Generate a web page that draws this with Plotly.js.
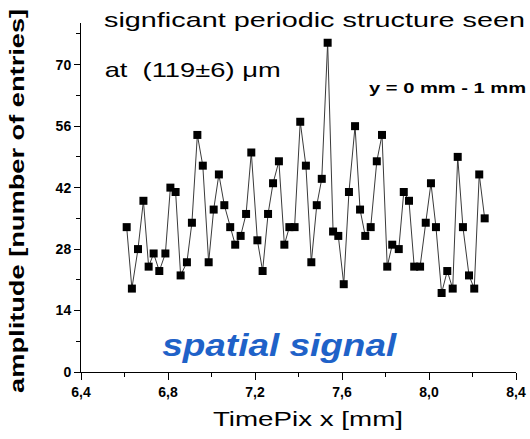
<!DOCTYPE html>
<html>
<head>
<meta charset="utf-8">
<script src="https://cdn.plot.ly/plotly-3.0.1.min.js"></script>
<style>html,body{margin:0;padding:0;background:#fff;}#chart{width:530px;height:439px;}</style>
</head>
<body>
<div id="chart"></div>
<script>
const xPos = [6.610,6.634,6.662,6.687,6.711,6.734,6.760,6.788,6.811,6.835,
  6.858,6.887,6.910,6.935,6.960,6.987,7.010,7.034,7.059,7.086,
  7.109,7.134,7.159,7.183,7.211,7.235,7.260,7.283,7.310,7.335,
  7.358,7.382,7.408,7.434,7.459,7.484,7.507,7.534,7.559,7.583,
  7.608,7.632,7.660,7.683,7.707,7.732,7.760,7.784,7.808,7.831,
  7.861,7.884,7.908,7.932,7.959,7.985,8.009,8.032,8.058,8.084,
  8.109,8.132,8.156,8.184,8.208,8.231,8.256];
const amplitude = [33,19,28,39,24,27,23,27,42,41,
  22,25,34,54,47,25,37,45,38,33,
  29,31,36,50,30,23,36,43,48,29,
  33,33,57,47,25,38,44,75,32,31,
  20,41,56,37,31,33,48,54,24,29,
  28,41,39,24,24,34,43,33,18,23,
  19,49,33,22,19,45,35];
const yTicks = [0,14,28,42,56,70];
const xTicks = [6.4,6.8,7.2,7.6,8.0,8.4];

const trace = {
  x: xPos, y: amplitude, type: 'scatter', mode: 'lines+markers',
  line: {color: '#3a3a3a', width: 1},
  marker: {symbol: 'square', size: 8, color: '#000000'},
  hoverinfo: 'none'
};
const FAM = 'Liberation Sans, Arial, sans-serif';
const axFont = {family: FAM, size: 14, color: '#000'};
// plot area in pixels: x 81..516, y 23..372
const px = v => (v - 81) / 435;
const py = v => (372 - v) / 349;
const layout = {
  width: 530, height: 439,
  margin: {l: 81, r: 14, t: 23, b: 67},
  paper_bgcolor: '#fff', plot_bgcolor: '#fff',
  separators: ', ',
  showlegend: false,
  xaxis: {
    range: [6.4, 8.4], tickvals: xTicks, ticktext: xTicks.map(v => '<b>' + v.toFixed(1).replace('.', ',') + '</b>'),
    ticks: 'outside', ticklen: 7, tickwidth: 1, tickcolor: '#000',
    showline: true, linecolor: '#000', linewidth: 1, showgrid: false, zeroline: false,
    tickfont: axFont,
    minor: {dtick: 0.2, tick0: 6.4, ticks: 'outside', ticklen: 4, tickcolor: '#000', showgrid: false}
  },
  yaxis: {
    range: [0, 79.5], tickvals: yTicks, ticktext: yTicks.map(v => '<b>' + v + '</b>'),
    ticks: 'outside', ticklen: 6, tickwidth: 1, tickcolor: '#000',
    showline: true, linecolor: '#000', linewidth: 1, showgrid: false, zeroline: false,
    tickfont: axFont,
    minor: {dtick: 14, tick0: 7, ticks: 'outside', ticklen: 4, tickcolor: '#000', showgrid: false}
  },
  annotations: [
    {xref: 'paper', yref: 'paper', x: px(314.5), y: py(19), xanchor: 'center', yanchor: 'middle',
     text: 'signficant periodic structure seen', showarrow: false,
     font: {family: FAM, size: 21, color: '#000'}},
    {xref: 'paper', yref: 'paper', x: px(192), y: py(70), xanchor: 'center', yanchor: 'middle',
     text: 'at  (119±6) μm', showarrow: false,
     font: {family: FAM, size: 21, color: '#000'}},
    {xref: 'paper', yref: 'paper', x: px(447.5), y: py(88), xanchor: 'center', yanchor: 'middle',
     text: '<b>y = 0 mm - 1 mm</b>', showarrow: false,
     font: {family: FAM, size: 15, color: '#000'}},
    {xref: 'paper', yref: 'paper', x: px(280), y: py(345), xanchor: 'center', yanchor: 'middle',
     text: '<b><i>spatial signal</i></b>', showarrow: false,
     font: {family: FAM, size: 31, color: '#1f62c8'}},
    {xref: 'paper', yref: 'paper', x: px(308), y: py(418), xanchor: 'center', yanchor: 'middle',
     text: 'TimePix x [mm]', showarrow: false,
     font: {family: FAM, size: 21, color: '#000'}},
    {xref: 'paper', yref: 'paper', x: px(17), y: py(201), xanchor: 'center', yanchor: 'middle',
     text: '<b>amplitude [number of entries]</b>', showarrow: false, textangle: -90,
     font: {family: FAM, size: 20, color: '#000'}}
  ]
};
// rendered widths of the text runs in the reference, in pixels
const textWidths = [421, 176, 157, 234, 190, 384];
Plotly.newPlot('chart', [trace], layout, {staticPlot: true, displayModeBar: false}).then(() => {
  textWidths.forEach((w, i) => {
    const t = document.querySelector('.annotation[data-index="' + i + '"] .annotation-text');
    if (t) {
      t.setAttribute('textLength', w);
      t.setAttribute('lengthAdjust', 'spacingAndGlyphs');
    }
  });
});
</script>
</body>
</html>
